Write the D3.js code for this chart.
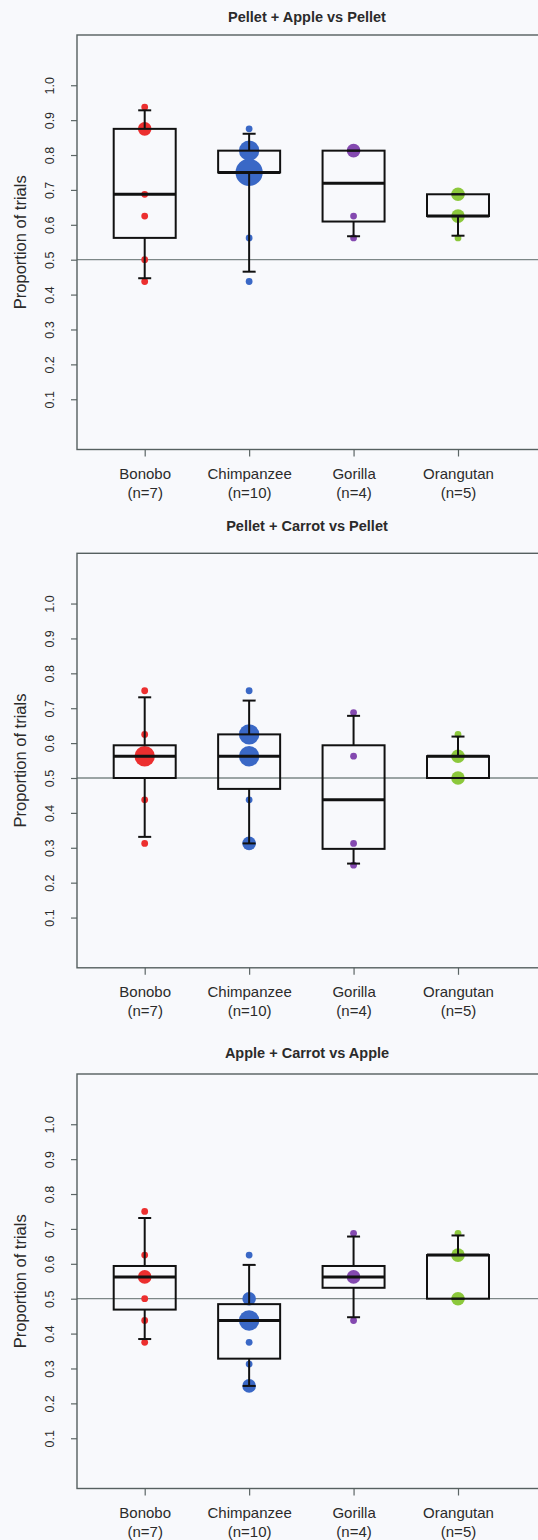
<!DOCTYPE html>
<html>
<head>
<meta charset="utf-8">
<script src="https://cdn.jsdelivr.net/npm/d3@7"></script>
<style>
  html, body { margin: 0; padding: 0; background: #f8f9fc; }
  svg { display: block; }
  text { font-family: "Liberation Sans", Arial, Helvetica, sans-serif; fill: #2b2b2b; }
</style>
</head>
<body>
<div id="chart"></div>
<script>
// Species along the x axis and number of individuals per species
const species = ["Bonobo", "Chimpanzee", "Gorilla", "Orangutan"];
const sampleSizes = [7, 10, 4, 5];
const pointColors = ["#ec2f2f", "#3a68c6", "#8449b0", "#8cc83c"];

// Panel titles
const panelTitles = [
  "Pellet + Apple vs Pellet",
  "Pellet + Carrot vs Pellet",
  "Apple + Carrot vs Apple"
];

// Per-individual proportion of trials, one array per species (order as in `species`)
const pelletAppleVsPellet = [
  [0.9375, 0.875, 0.875, 0.6875, 0.625, 0.5, 0.4375],
  [0.875, 0.8125, 0.8125, 0.8125, 0.75, 0.75, 0.75, 0.75, 0.5625, 0.4375],
  [0.8125, 0.8125, 0.625, 0.5625],
  [0.6875, 0.6875, 0.625, 0.625, 0.5625]
];
const pelletCarrotVsPellet = [
  [0.75, 0.625, 0.5625, 0.5625, 0.5625, 0.4375, 0.3125],
  [0.75, 0.625, 0.625, 0.625, 0.5625, 0.5625, 0.5625, 0.4375, 0.3125, 0.3125],
  [0.6875, 0.5625, 0.3125, 0.25],
  [0.625, 0.5625, 0.5625, 0.5, 0.5]
];
const appleCarrotVsApple = [
  [0.75, 0.625, 0.5625, 0.5625, 0.5, 0.4375, 0.375],
  [0.625, 0.5, 0.5, 0.4375, 0.4375, 0.4375, 0.375, 0.3125, 0.25, 0.25],
  [0.6875, 0.5625, 0.5625, 0.4375],
  [0.6875, 0.625, 0.625, 0.5, 0.5]
];
const panelData = [pelletAppleVsPellet, pelletCarrotVsPellet, appleCarrotVsApple];

// Axis ticks and chance reference line
const yTicks = [0.1, 0.2, 0.3, 0.4, 0.5, 0.6, 0.7, 0.8, 0.9, 1.0];
const chanceLevel = 0.5;
const yDomain = [-0.044, 1.144];

// Page layout
const W = 538, H = 1540;
const panelTops = [35, 553.3, 1074];
const titleYs = [17, 526, 1053];
const plotH = 414.5;
const frameLeft = 77;
const boxWidth = 62;
const capWidth = 13;

const svg = d3.select("#chart").append("svg")
  .attr("width", W).attr("height", H)
  .attr("viewBox", `0 0 ${W} ${H}`);

svg.append("rect").attr("width", W).attr("height", H).attr("fill", "#f8f9fc");

const x = d3.scalePoint().domain(species).range([144.7, 458]);
const r = d3.scaleLinear().domain([0, 1]).range([0, 3.4]);

panelData.forEach((groups, p) => {
  const top = panelTops[p];
  const bottom = top + plotH;
  const y = d3.scaleLinear().domain(yDomain).range([bottom, top]);
  const g = svg.append("g");

  // title
  g.append("text")
    .attr("x", 307).attr("y", titleYs[p])
    .attr("dy", "0.35em")
    .attr("text-anchor", "middle")
    .style("font-weight", "bold")
    .style("font-size", "14.5px")
    .text(panelTitles[p]);

  // y axis title
  g.append("text")
    .attr("transform", `translate(20,${(top + bottom) / 2}) rotate(-90)`)
    .attr("dy", "0.35em")
    .attr("text-anchor", "middle")
    .style("font-size", "16.5px")
    .text("Proportion of trials");

  // chance reference line
  g.append("line")
    .attr("x1", frameLeft).attr("x2", W + 10)
    .attr("y1", y(chanceLevel)).attr("y2", y(chanceLevel))
    .attr("stroke", "#7d8787").attr("stroke-width", 1.3);

  // y axis
  const yAxis = g.append("g")
    .attr("transform", `translate(${frameLeft},0)`)
    .call(d3.axisLeft(y).tickValues(yTicks).tickSize(6).tickFormat(d3.format(".1f")));
  yAxis.select(".domain").remove();
  yAxis.selectAll(".tick line").attr("stroke", "#5c6666").attr("stroke-width", 1.2);
  yAxis.selectAll(".tick text")
    .attr("x", null).attr("dy", null)
    .attr("transform", "translate(-27,0) rotate(-90)")
    .attr("text-anchor", "middle")
    .attr("dominant-baseline", "central")
    .style("font-size", "12.5px")
    .style("font-family", "'Liberation Sans', Arial, sans-serif")
    .attr("fill", "#2b2b2b");

  // x axis
  const xAxis = g.append("g")
    .attr("transform", `translate(0,${bottom})`)
    .call(d3.axisBottom(x).tickSize(7).tickFormat(""));
  xAxis.select(".domain").remove();
  xAxis.selectAll(".tick line").attr("stroke", "#5c6666").attr("stroke-width", 1.2);
  xAxis.selectAll(".tick").each(function(d, i) {
    const t = d3.select(this).append("text")
      .attr("text-anchor", "middle")
      .style("font-size", "15px")
      .attr("fill", "#2b2b2b");
    t.append("tspan").attr("x", 0).attr("y", 29).text(d);
    t.append("tspan").attr("x", 0).attr("y", 48.5).text(`(n=${sampleSizes[i]})`);
  });

  // points: one circle per distinct value, radius grows with the number of individuals
  groups.forEach((vals, i) => {
    const counts = Array.from(d3.rollup(vals, v => v.length, d => d), ([value, n]) => ({ value, n }));
    g.append("g").selectAll("circle")
      .data(counts.sort((a, b) => b.n - a.n))
      .join("circle")
      .attr("cx", x(species[i]))
      .attr("cy", d => y(d.value))
      .attr("r", d => r(d.n))
      .attr("fill", pointColors[i]);
  });

  // boxes: 25/50/75 % quantiles, whiskers at 2.5 and 97.5 %
  groups.forEach((vals, i) => {
    const s = vals.slice().sort(d3.ascending);
    const q1 = d3.quantileSorted(s, 0.25);
    const med = d3.quantileSorted(s, 0.5);
    const q3 = d3.quantileSorted(s, 0.75);
    const lo = d3.quantileSorted(s, 0.025);
    const hi = d3.quantileSorted(s, 0.975);
    const cx = x(species[i]);
    const bg = g.append("g").attr("stroke", "#111").attr("fill", "none");

    bg.append("line").attr("x1", cx).attr("x2", cx).attr("y1", y(q3)).attr("y2", y(hi)).attr("stroke-width", 2);
    bg.append("line").attr("x1", cx).attr("x2", cx).attr("y1", y(q1)).attr("y2", y(lo)).attr("stroke-width", 2);
    bg.append("line").attr("x1", cx - capWidth / 2).attr("x2", cx + capWidth / 2).attr("y1", y(hi)).attr("y2", y(hi)).attr("stroke-width", 2);
    bg.append("line").attr("x1", cx - capWidth / 2).attr("x2", cx + capWidth / 2).attr("y1", y(lo)).attr("y2", y(lo)).attr("stroke-width", 2);
    bg.append("rect")
      .attr("x", cx - boxWidth / 2).attr("width", boxWidth)
      .attr("y", y(q3)).attr("height", y(q1) - y(q3))
      .attr("stroke-width", 2);
    bg.append("line")
      .attr("x1", cx - boxWidth / 2).attr("x2", cx + boxWidth / 2)
      .attr("y1", y(med)).attr("y2", y(med))
      .attr("stroke-width", 3);
  });

  // plot frame (continues past the right edge of the page)
  g.append("rect")
    .attr("x", frameLeft).attr("y", top)
    .attr("width", W + 20 - frameLeft).attr("height", plotH)
    .attr("fill", "none").attr("stroke", "#566060").attr("stroke-width", 1.4);
});
</script>
</body>
</html>
